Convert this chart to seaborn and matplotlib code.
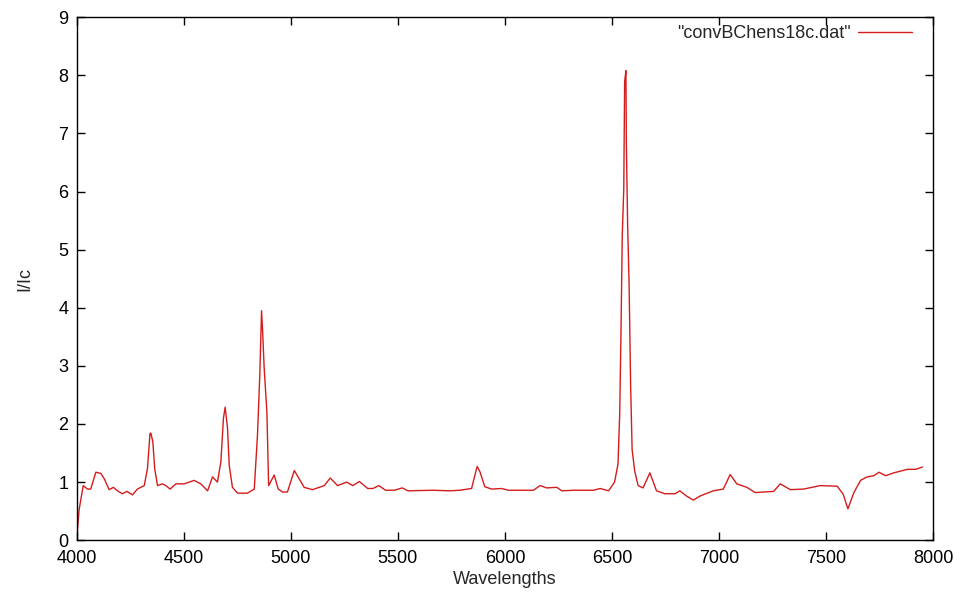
import matplotlib
matplotlib.use("Agg")
import matplotlib.pyplot as plt
import seaborn as sns

# Spectrum
wavelength = [4000, 4011, 4030, 4050, 4065, 4089, 4112, 4128, 4151, 4171, 4190, 4213, 4234, 4260,
              4283, 4315, 4330, 4342, 4346, 4355, 4364, 4377, 4400, 4416, 4436, 4463, 4502, 4548,
              4579, 4611, 4634, 4657, 4673, 4685, 4693, 4704, 4712, 4727, 4751, 4797, 4829, 4844,
              4855, 4863, 4868, 4875, 4888, 4896, 4922, 4941, 4961, 4984, 5016, 5062, 5101, 5156,
              5184, 5218, 5261, 5289, 5320, 5359, 5383, 5411, 5442, 5484, 5520, 5547, 5664, 5742,
              5789, 5844, 5870, 5883, 5906, 5938, 5984, 6016, 6133, 6164, 6195, 6242, 6266, 6320,
              6414, 6445, 6484, 6512, 6528, 6536, 6542, 6548, 6555, 6559, 6565, 6567, 6573, 6580,
              6587, 6594, 6606, 6622, 6645, 6677, 6708, 6747, 6794, 6817, 6848, 6880, 6911, 6973,
              7020, 7052, 7083, 7130, 7169, 7255, 7286, 7333, 7395, 7473, 7552, 7580, 7602, 7630,
              7661, 7692, 7723, 7747, 7778, 7817, 7880, 7919, 7950]
intensity = [0.05, 0.53, 0.94, 0.88, 0.88, 1.17, 1.15, 1.06, 0.87, 0.91, 0.85, 0.80, 0.84, 0.78,
             0.88, 0.94, 1.23, 1.84, 1.84, 1.70, 1.23, 0.94, 0.97, 0.94, 0.88, 0.97, 0.97, 1.03,
             0.97, 0.85, 1.09, 1.00, 1.35, 2.10, 2.29, 1.93, 1.29, 0.91, 0.81, 0.81, 0.88, 1.81,
             2.86, 3.95, 3.60, 2.98, 2.20, 0.94, 1.12, 0.88, 0.83, 0.83, 1.20, 0.91, 0.87, 0.94,
             1.07, 0.94, 1.00, 0.94, 1.01, 0.89, 0.89, 0.94, 0.86, 0.86, 0.90, 0.85, 0.86, 0.85,
             0.86, 0.89, 1.27, 1.18, 0.92, 0.88, 0.89, 0.86, 0.86, 0.94, 0.90, 0.91, 0.85, 0.86,
             0.86, 0.89, 0.85, 1.00, 1.31, 2.17, 3.59, 5.25, 6.05, 7.89, 8.08, 6.85, 5.43, 4.38,
             2.66, 1.56, 1.19, 0.94, 0.90, 1.16, 0.85, 0.80, 0.80, 0.85, 0.76, 0.69, 0.76, 0.85,
             0.88, 1.13, 0.97, 0.91, 0.82, 0.84, 0.97, 0.87, 0.88, 0.94, 0.93, 0.79, 0.54, 0.82,
             1.03, 1.09, 1.11, 1.17, 1.11, 1.16, 1.22, 1.22, 1.26]

sns.set_style("ticks")
plt.rcParams['font.family'] = ['Liberation Sans', 'DejaVu Sans']
plt.rcParams['font.size'] = 13

fig = plt.figure(figsize=(9.6, 5.93), dpi=100)
ax = fig.add_axes([0.080, 0.089, 0.892, 0.882])

sns.lineplot(x=wavelength, y=intensity, ax=ax, color='#d41c1c', linewidth=1.0,
             estimator=None, label='"convBChens18c.dat"')

ax.set_xlim(4000, 8000)
ax.set_ylim(0, 9)
ax.set_xticks(range(4000, 8001, 500))
ax.set_yticks(range(0, 10))
ax.tick_params(direction='in', top=True, right=True, length=6, width=1, colors='black',
               labelsize=13)
ax.tick_params(axis='x', pad=7)
ax.tick_params(axis='y', pad=6)
for s in ax.spines.values():
    s.set_linewidth(1.0)
    s.set_color('black')

ax.set_xlabel('Wavelengths', fontsize=13, labelpad=3)
ax.set_ylabel('I/Ic', fontsize=13, labelpad=18)

ax.legend(loc='upper right', bbox_to_anchor=(0.988, 1.006), frameon=False, markerfirst=False,
          handlelength=3.0, fontsize=13, borderaxespad=0.2, handletextpad=0.4)

fig.savefig('out.png', dpi=100)
